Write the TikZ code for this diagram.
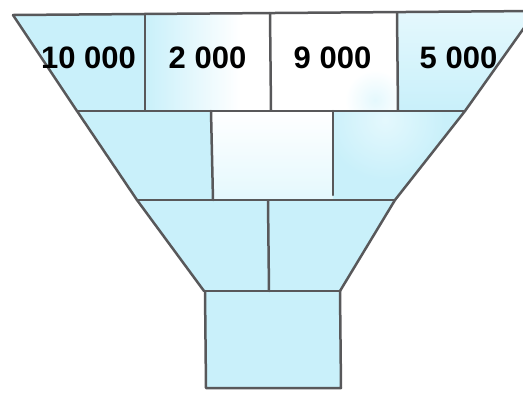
\documentclass[tikz,border=0pt]{standalone}
\usepackage{fontspec}
\setmainfont{Liberation Sans}
\definecolor{wblue}{RGB}{201,240,250}
\definecolor{wpale}{RGB}{228,248,253}
\definecolor{pen}{RGB}{88,88,90}
\tikzset{
  penline/.style={draw=pen, line width=2.5pt, line join=round, line cap=round},
  numlabel/.style={font=\bfseries\fontsize{31}{31}\selectfont, text=black, inner sep=0pt},
}
\begin{document}
\begin{tikzpicture}[x=1pt,y=-1pt]
\useasboundingbox (0,0) rectangle (523,392);
\clip (0,0) rectangle (523,392);
% key points
\coordinate (TL) at (13,15);
\coordinate (TR) at (536,11);
\coordinate (L1) at (77,111);
\coordinate (L2) at (137,200);
\coordinate (L3) at (204,291);
\coordinate (R1) at (465,111);
\coordinate (R2) at (395,200);
\coordinate (R3) at (340,291);
\coordinate (SBL) at (206,388);
\coordinate (SBR) at (341,388);
% base fill
\fill[wblue] (TL) -- (TR) -- (R1) -- (R2) -- (R3) -- (SBR) -- (SBL) -- (L3) -- (L2) -- (L1) -- cycle;
% lighter watercolor patches
\begin{scope}
  \clip (TL) -- (TR) -- (R1) -- (R2) -- (R3) -- (L3) -- (L2) -- (L1) -- cycle;
  \begin{scope}
    \clip (145,13) rectangle (270,110);
    \shade[left color=wblue, right color=white] (145,13) rectangle (240,110);
    \fill[white] (240,13) rectangle (270,110);
  \end{scope}
  \begin{scope}
    \clip (270,13) rectangle (397,110);
    \fill[white] (270,13) rectangle (397,110);
    \shade[inner color=wpale, outer color=white] (375,100) circle (30);
  \end{scope}
  \begin{scope}
    \clip (397,12) rectangle (540,110);
    \shade[top color=wpale, bottom color=wblue] (397,12) rectangle (540,110);
  \end{scope}
  \begin{scope}
    \clip (212,110) rectangle (333,200);
    \shade[top color=white, bottom color=wpale] (212,110) rectangle (333,200);
  \end{scope}
  \begin{scope}
    \clip (333,110) rectangle (470,200);
    \shade[inner color=wpale, outer color=wblue] (385,120) circle (60);
  \end{scope}
\end{scope}
% outline
\draw[penline] (TL) -- (TR);
\draw[penline] (TL) -- (L1) -- (L2) -- (L3);
\draw[penline] (TR) -- (R1) -- (R2) -- (R3);
\draw[penline] (L1) -- (R1);
\draw[penline] (L2) -- (R2);
\draw[penline] (L3) -- (R3);
\draw[penline] (205,291) -- (SBL) -- (SBR) -- (340,291);
% vertical joints
\draw[penline] (145,14) -- (145,110);
\draw[penline] (270,13) -- (271,110);
\draw[penline] (397,13) -- (398,110);
\draw[penline] (211,111) -- (213,200);
\draw[penline] (333,111) -- (333,195);
\draw[penline] (268,201) -- (269,291);
% labels
\node[numlabel] (n1) at (88.5,58) {10 000};
\node[numlabel] (n2) at (207.5,58) {2 000};
\node[numlabel] (n3) at (332.5,58) {9 000};
\node[numlabel] (n4) at (458.5,58) {5 000};
\end{tikzpicture}
\end{document}
